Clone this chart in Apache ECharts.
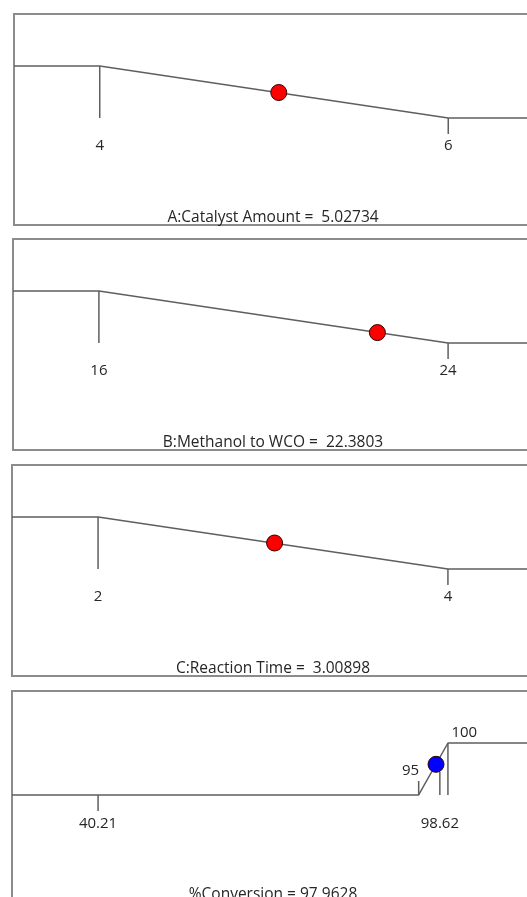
<!DOCTYPE html>
<html>
<head>
<meta charset="utf-8">
<script src="https://cdn.jsdelivr.net/npm/echarts@6/dist/echarts.min.js"></script>
<style>
html,body{margin:0;padding:0;background:#fff;overflow:hidden;width:527px;height:897px;}
#chart{width:534px;height:905px;}
</style>
</head>
<body>
<div id="chart"></div>
<script>
// ---- Data ----
const factorNames = ['A:Catalyst Amount', 'B:Methanol to WCO', 'C:Reaction Time'];
const factorLow = [4, 16, 2];
const factorHigh = [6, 24, 4];
const factorValue = [5.02734, 22.3803, 3.00898];
const factorValueText = ['5.02734', '22.3803', '3.00898'];
const factorDotD = [0.49, 0.20, 0.50];           // desirability height of the dot on each ramp
const factorRampD = [1, 0];                       // ramp: d at low, d at high
const factorLowTickD = [1, 0];                    // tick at low value spans d 1 -> 0
const factorHighTickD = [0, -0.31];               // tick at high value spans d 0 -> -0.31

const responseName = '%Conversion';
const responseDataLow = 40.21;
const responseDataHigh = 98.62;
const responseGoalLow = 95;
const responseGoalHigh = 100;
const responseValue = 97.9628;
const responseValueText = '97.9628';
const responseDotD = 0.59;
const responseTicks = [            // [value, d from, d to]
  [40.21, 0, -0.31],
  [95, 0, 0.27],
  [98.62, 0, 0.44],
  [100, 0, 1]
];

// ---- Layout ----
const gridTops = [14, 239, 465, 691];
const gridLefts = [14, 13, 12, 12];
const gridHeight = 211;
const padFrac = 0.246;
const yMin = -2.058, yMax = 2;
const lineColor = '#5f5f5f';
const textColor = '#262626';
const fontFamily = '"Open Sans", "Noto Sans", sans-serif';
const labelSize = 15;
const titleSize = 15.5;
const titleCenterX = 268;

const grids = [], xAxes = [], yAxes = [], series = [], titles = [];

function addPanel(i, lo, hi) {
  const span = hi - lo;
  const xmin = lo - padFrac * span, xmax = hi + padFrac * span;
  grids.push({left: gridLefts[i], right: 0, top: gridTops[i], height: gridHeight,
    show: true, borderColor: '#8c8c8c', borderWidth: 2, backgroundColor: '#fff'});
  xAxes.push({type: 'value', gridIndex: i, min: xmin, max: xmax, show: false});
  yAxes.push({type: 'value', gridIndex: i, min: yMin, max: yMax, show: false});
  return [xmin, xmax];
}
function lineSeries(i, data) {
  series.push({type: 'line', xAxisIndex: i, yAxisIndex: i, data: data, symbol: 'none',
    lineStyle: {color: lineColor, width: 1.5}, silent: true, animation: false, z: 2, clip: true});
}
function labelSeries(i, x, y, text, opts) {
  series.push({type: 'scatter', xAxisIndex: i, yAxisIndex: i, symbol: 'rect', symbolSize: [1, 1],
    itemStyle: {color: '#ffffff', opacity: 1}, silent: true, animation: false, z: 1,
    data: [[x, y]],
    label: Object.assign({show: true, formatter: text, color: textColor, fontFamily: fontFamily,
      fontSize: labelSize, position: 'inside', opacity: 1}, opts)});
}
function dotSeries(i, x, d, color) {
  series.push({type: 'scatter', xAxisIndex: i, yAxisIndex: i, symbol: 'circle', symbolSize: 16,
    itemStyle: {color: color, borderColor: '#300000', borderWidth: 1, opacity: 1}, data: [[x, d]],
    silent: true, animation: false, z: 5});
}

for (let i = 0; i < 3; i++) {
  const lo = factorLow[i], hi = factorHigh[i];
  const [xmin, xmax] = addPanel(i, lo, hi);
  lineSeries(i, [[xmin, factorRampD[0]], [lo, factorRampD[0]], [hi, factorRampD[1]], [xmax, factorRampD[1]]]);
  lineSeries(i, [[lo, factorLowTickD[0]], [lo, factorLowTickD[1]]]);
  lineSeries(i, [[hi, factorHighTickD[0]], [hi, factorHighTickD[1]]]);
  labelSeries(i, lo, 0, String(lo), {offset: [0, 28]});
  labelSeries(i, hi, 0, String(hi), {offset: [0, 28]});
  dotSeries(i, factorValue[i], factorDotD[i], '#ff0000');
  titles.push({text: factorNames[i] + ' =  ' + factorValueText[i], left: titleCenterX, textAlign: 'center',
    top: gridTops[i] + 191,
    textStyle: {fontFamily: fontFamily, fontSize: titleSize, fontWeight: 'normal', color: textColor}});
}

{
  const i = 3;
  const lo = Math.min(responseDataLow, responseGoalLow), hi = Math.max(responseDataHigh, responseGoalHigh);
  const [xmin, xmax] = addPanel(i, lo, hi);
  lineSeries(i, [[xmin, 0], [responseGoalLow, 0], [responseGoalHigh, 1], [xmax, 1]]);
  responseTicks.forEach(t => lineSeries(i, [[t[0], t[1]], [t[0], t[2]]]));
  labelSeries(i, responseDataLow, 0, String(responseDataLow), {offset: [0, 29]});
  labelSeries(i, responseDataHigh, 0, String(responseDataHigh), {offset: [0, 29]});
  labelSeries(i, responseGoalLow, 0.27, String(responseGoalLow), {position: 'left', distance: 0, offset: [1, -10]});
  labelSeries(i, responseGoalHigh, 1, String(responseGoalHigh), {position: 'right', distance: 2, offset: [1, -10]});
  dotSeries(i, responseValue, responseDotD, '#0000ff');
  titles.push({text: responseName + ' = ' + responseValueText, left: titleCenterX, textAlign: 'center',
    top: gridTops[i] + 191,
    textStyle: {fontFamily: fontFamily, fontSize: titleSize, fontWeight: 'normal', color: textColor}});
}

const chart = echarts.init(document.getElementById('chart'), null, {renderer: 'canvas'});
chart.setOption({
  animation: false,
  backgroundColor: '#fff',
  title: titles,
  grid: grids,
  xAxis: xAxes,
  yAxis: yAxes,
  series: series
});
</script>
</body>
</html>
